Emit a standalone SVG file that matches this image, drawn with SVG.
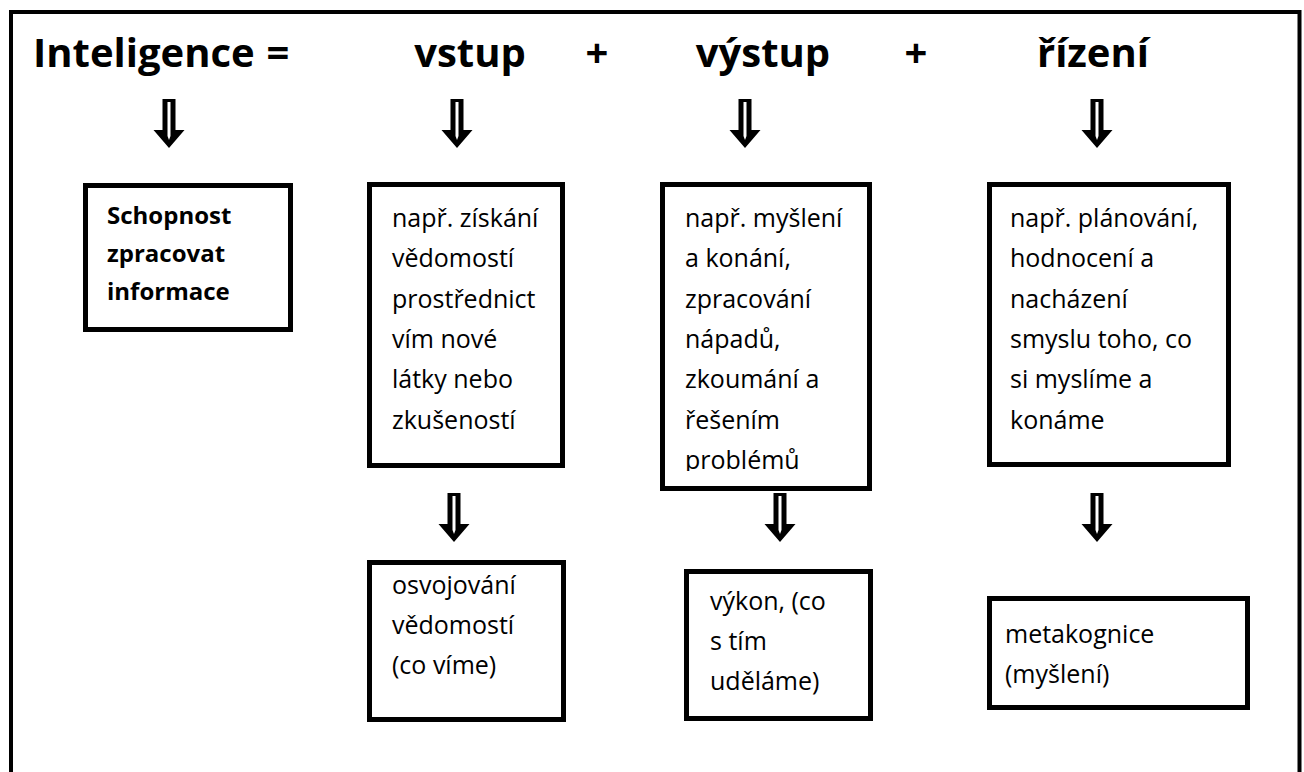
<svg xmlns="http://www.w3.org/2000/svg" width="1304" height="772" viewBox="0 0 1304 772">
<style>
.frame{fill:none;stroke:#000;stroke-width:4}
.box{fill:#fff;stroke:#000;stroke-width:5}
.title{font-family:"Open Sans","Liberation Sans",sans-serif;font-weight:bold;font-size:40px;fill:#000}
.t{font-family:"Open Sans","Liberation Sans",sans-serif;font-size:25px;fill:#000}
.tb{font-family:"Open Sans","Liberation Sans",sans-serif;font-size:24px;font-weight:bold;fill:#000}
</style>
<defs>
<g id="arr">
<path d="M-6.5,0 H6.5 V31 H15.5 L0,49 L-15.5,31 H-6.5 Z" fill="#000"/>
<path d="M-1.5,3 H1.5 V37 L0,41 L-1.5,37 Z" fill="#fff"/>
</g>
<clipPath id="clipC"><rect x="665" y="187" width="202" height="284"/></clipPath>
</defs>
<rect width="1304" height="772" fill="#fff"/>
<path class="frame" d="M11,780 V12 H1299.5 V780"/>

<g id="header">
<text class="title" x="33" y="67">Inteligence</text>
<text class="title" x="278" y="67" text-anchor="middle">=</text>
<text class="title" x="470" y="67" text-anchor="middle">vstup</text>
<text class="title" x="597" y="67" text-anchor="middle">+</text>
<text class="title" x="763" y="67" text-anchor="middle">výstup</text>
<text class="title" x="916" y="67" text-anchor="middle">+</text>
<text class="title" x="1093" y="67" text-anchor="middle">řízení</text>
</g>

<g id="connectors">
<use href="#arr" transform="translate(169,99)"/>
<use href="#arr" transform="translate(457,99)"/>
<use href="#arr" transform="translate(745,99)"/>
<use href="#arr" transform="translate(1097,99)"/>
<use href="#arr" transform="translate(454,493)"/>
<use href="#arr" transform="translate(780,493)"/>
<use href="#arr" transform="translate(1097,493)"/>
</g>

<g id="nodeA">
<rect class="box" x="85.5" y="185.5" width="205" height="144"/>
<text class="tb" x="107" y="224">Schopnost</text>
<text class="tb" x="107" y="262">zpracovat</text>
<text class="tb" x="107" y="300">informace</text>
</g>

<g id="nodeB">
<rect class="box" x="369.5" y="184.5" width="193" height="281"/>
<text class="t" x="392" y="227">např. získání</text>
<text class="t" x="392" y="267">vědomostí</text>
<text class="t" x="392" y="308">prostřednict</text>
<text class="t" x="392" y="348">vím nové</text>
<text class="t" x="392" y="388">látky nebo</text>
<text class="t" x="392" y="429">zkušeností</text>
</g>

<g id="nodeC">
<rect class="box" x="662.5" y="184.5" width="207" height="304"/>
<g clip-path="url(#clipC)">
<text class="t" x="685" y="227">např. myšlení</text>
<text class="t" x="685" y="267">a konání,</text>
<text class="t" x="685" y="308">zpracování</text>
<text class="t" x="685" y="348">nápadů,</text>
<text class="t" x="685" y="388">zkoumání a</text>
<text class="t" x="685" y="429">řešením</text>
<text class="t" x="685" y="469">problémů</text>
</g>
</g>

<g id="nodeD">
<rect class="box" x="989.5" y="184.5" width="239" height="280"/>
<text class="t" x="1010" y="227">např. plánování,</text>
<text class="t" x="1010" y="267">hodnocení a</text>
<text class="t" x="1010" y="308">nacházení</text>
<text class="t" x="1010" y="348">smyslu toho, co</text>
<text class="t" x="1010" y="388">si myslíme a</text>
<text class="t" x="1010" y="429">konáme</text>
</g>

<g id="nodeE">
<rect class="box" x="369.5" y="562.5" width="194" height="157"/>
<text class="t" x="392" y="594">osvojování</text>
<text class="t" x="392" y="634">vědomostí</text>
<text class="t" x="392" y="674">(co víme)</text>
</g>

<g id="nodeF">
<rect class="box" x="686.5" y="571.5" width="184" height="147"/>
<text class="t" x="710" y="610">výkon, (co</text>
<text class="t" x="710" y="650">s tím</text>
<text class="t" x="710" y="690">uděláme)</text>
</g>

<g id="nodeG">
<rect class="box" x="989.5" y="598.5" width="258" height="109"/>
<text class="t" x="1005" y="643">metakognice</text>
<text class="t" x="1005" y="683">(myšlení)</text>
</g>
</svg>
